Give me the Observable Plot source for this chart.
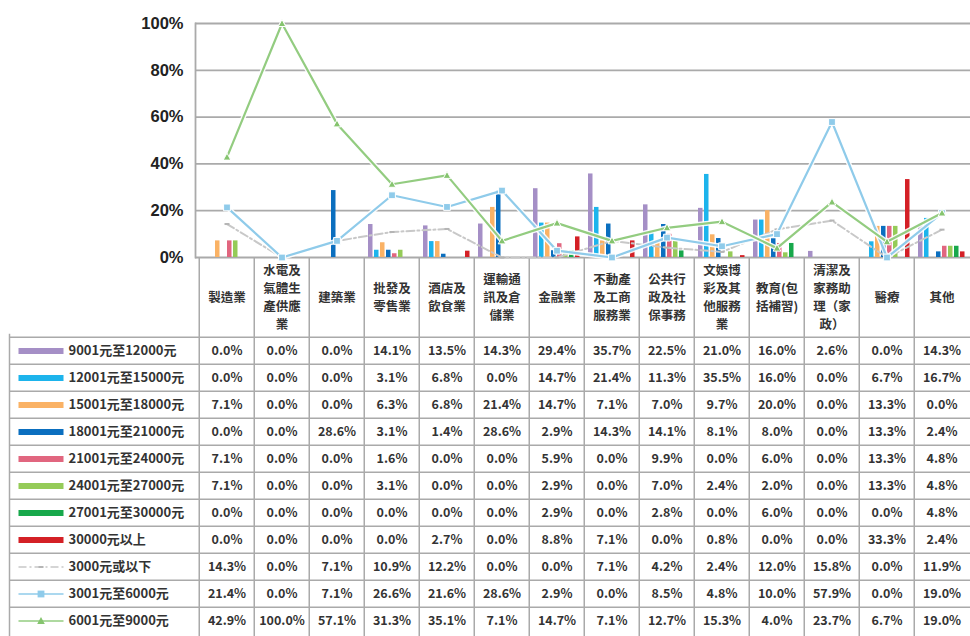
<!DOCTYPE html>
<html><head><meta charset="utf-8">
<script src="https://cdn.jsdelivr.net/npm/d3@7"></script>
<script src="https://cdn.jsdelivr.net/npm/@observablehq/plot@0.6"></script>
<style>
html,body{margin:0;padding:0;background:#fff;overflow:hidden;}
#wrap{width:970px;height:636px;overflow:hidden;position:relative;}
#wrap svg{display:block;max-width:none;}
#wrap svg.chartsvg{overflow:visible;position:relative;z-index:2;background:transparent !important;}
</style></head><body><div id="wrap"></div>
<script>
const categories = ["製造業","水電及氣體生產供應業","建築業","批發及零售業","酒店及飲食業","運輸通訊及倉儲業","金融業","不動產及工商服務業","公共行政及社保事務","文娛博彩及其他服務業","教育(包括補習)","清潔及家務助理（家政）","醫療","其他"];
const headerLabels = ["製造業","水電及\n氣體生\n產供應\n業","建築業","批發及\n零售業","酒店及\n飲食業","運輸通\n訊及倉\n儲業","金融業","不動產\n及工商\n服務業","公共行\n政及社\n保事務","文娛博\n彩及其\n他服務\n業","教育(包\n括補習)","清潔及\n家務助\n理（家\n政）","醫療","其他"];
const barSeries = ["9001元至12000元","12001元至15000元","15001元至18000元","18001元至21000元","21001元至24000元","24001元至27000元","27001元至30000元","30000元以上"];
const lineSeries = ["3000元或以下","3001元至6000元","6001元至9000元"];
const yTicks = [0, 0.2, 0.4, 0.6, 0.8, 1];

const s9001  = [0.0,0.0,0.0,14.1,13.5,14.3,29.4,35.7,22.5,21.0,16.0,2.6,0.0,14.3];
const s12001 = [0.0,0.0,0.0,3.1,6.8,0.0,14.7,21.4,11.3,35.5,16.0,0.0,6.7,16.7];
const s15001 = [7.1,0.0,0.0,6.3,6.8,21.4,14.7,7.1,7.0,9.7,20.0,0.0,13.3,0.0];
const s18001 = [0.0,0.0,28.6,3.1,1.4,28.6,2.9,14.3,14.1,8.1,8.0,0.0,13.3,2.4];
const s21001 = [7.1,0.0,0.0,1.6,0.0,0.0,5.9,0.0,9.9,0.0,6.0,0.0,13.3,4.8];
const s24001 = [7.1,0.0,0.0,3.1,0.0,0.0,2.9,0.0,7.0,2.4,2.0,0.0,13.3,4.8];
const s27001 = [0.0,0.0,0.0,0.0,0.0,0.0,2.9,0.0,2.8,0.0,6.0,0.0,0.0,4.8];
const s30000 = [0.0,0.0,0.0,0.0,2.7,0.0,8.8,7.1,0.0,0.8,0.0,0.0,33.3,2.4];
const s3000  = [14.3,0.0,7.1,10.9,12.2,0.0,0.0,7.1,4.2,2.4,12.0,15.8,0.0,11.9];
const s3001  = [21.4,0.0,7.1,26.6,21.6,28.6,2.9,0.0,8.5,4.8,10.0,57.9,0.0,19.0];
const s6001  = [42.9,100.0,57.1,31.3,35.1,7.1,14.7,7.1,12.7,15.3,4.0,23.7,6.7,19.0];

const barValues = [s9001,s12001,s15001,s18001,s21001,s24001,s27001,s30000];
const lineValues = [s3000,s3001,s6001];
const barColors = ["#a58fc6","#1db4ec","#fab265","#0b6fbf","#e1667f","#95cb58","#17a84b","#d42026"];
const lineColors = ["#c8c8c8","#8fcbea","#93cc80"];
const markerFill = ["#b5b5b5","#8fcbea","#85c46e"];

const W = 972, left = 195;
const bw = (W - left) / categories.length;
const gridColor = "#aaaaaa";
const fontCJK = "'Noto Sans CJK TC', 'Noto Sans', sans-serif";
const rows = categories.map((c, j) => ({cat: c, j}));

const squareSym = {draw(ctx, size){ const s = 3.4; ctx.rect(-s, -s, 2*s, 2*s); }};
const triSym = {draw(ctx, size){ ctx.moveTo(0,-4); ctx.lineTo(3.8,3); ctx.lineTo(-3.8,3); ctx.closePath(); }};
const dashSym = {draw(ctx, size){ ctx.rect(-2.5,-1,5,2); }};
const markerSyms = [dashSym, squareSym, triSym];

const barMarks = barSeries.map((name, i) => Plot.barY(rows, {
  x: "cat", y: d => barValues[i][d.j] / 100, fill: barColors[i],
  insetLeft: 4 + i * 6, insetRight: bw - (4 + i * 6) - 5
}));

const lineMarks = [];
lineSeries.forEach((name, k) => {
  const yv = d => lineValues[k][d.j] / 100;
  if (k > 0) lineMarks.push(Plot.line(rows, {x: "cat", y: yv, stroke: "white", strokeWidth: 5, strokeOpacity: 0.9}));
  lineMarks.push(Plot.line(rows, {x: "cat", y: yv, stroke: lineColors[k], strokeWidth: k === 0 ? 2 : 2.2,
    strokeDasharray: k === 0 ? "8,3,2,3" : null}));
  lineMarks.push(Plot.dot(rows, {x: "cat", y: yv, symbol: markerSyms[k], fill: markerFill[k], stroke: k === 0 ? "none" : "white", strokeWidth: 1}));
});

const chart = Plot.plot({
  width: W, height: 258, marginLeft: left, marginRight: 0, marginTop: 23, marginBottom: 1,
  className: "chartsvg",
  style: {fontFamily: fontCJK, background: "transparent", overflow: "visible"},
  x: {type: "band", domain: categories, padding: 0, axis: null},
  y: {domain: [0, 1], axis: null},
  marks: [
    Plot.ruleY(yTicks, {stroke: gridColor, strokeWidth: 1.8}),
    Plot.axisY(yTicks, {tickSize: 0, tickPadding: 12, tickFormat: d => Math.round(d * 100) + "%",
      fontSize: 16.5, fontWeight: "bold", fontFamily: "'Liberation Sans', Arial, sans-serif", fill: "#222", label: null}),
    ...barMarks,
    ...lineMarks,
    Plot.frame({anchor: "left", stroke: gridColor, strokeWidth: 1.8})
  ]
});
chart.classList.add("chartsvg");

const allSeries = [...barSeries, ...lineSeries];
const allValues = [...barValues, ...lineValues];
const tableRows = [];
allSeries.forEach((s, k) => categories.forEach((c, j) => tableRows.push({series: s, cat: c, v: allValues[k][j]})));
const headerH = 76;
const tableH = 379;
const bh = (tableH - headerH) / allSeries.length;

const rectSym = {draw(ctx, size){ ctx.rect(-22.5, -3, 45, 6); }};
const lineSym = {draw(ctx, size){ ctx.moveTo(-22.5, 0); ctx.lineTo(22.5, 0); }};

const table = Plot.plot({
  width: W, height: tableH, marginLeft: 9, marginRight: 0, marginTop: headerH, marginBottom: 0,
  style: {fontFamily: fontCJK, background: "white"},
  x: {type: "band", domain: categories, range: [left, W], padding: 0, axis: null},
  y: {type: "band", domain: allSeries, padding: 0, axis: null},
  marks: [
    Plot.ruleY(allSeries, {y: d => d, dy: -bh / 2, stroke: gridColor, strokeWidth: 1.5}),
    Plot.frame({anchor: "bottom", stroke: gridColor, strokeWidth: 1.5}),
    Plot.frame({anchor: "left", stroke: gridColor, strokeWidth: 1.5}),
    Plot.ruleX(categories, {x: d => d, dx: -bw / 2, insetTop: -headerH, stroke: gridColor, strokeWidth: 1.5}),
    Plot.text(categories, {x: d => d, text: (d, i) => headerLabels[i], frameAnchor: "top", dy: -headerH / 2,
      lineAnchor: "middle", lineHeight: 1.45, fontSize: 12.5, fontWeight: "bold", fill: "#333"}),
    Plot.text(tableRows, {x: "cat", y: "series", text: d => d.v.toFixed(1) + "%", fontSize: 12.5, fontWeight: "bold", fill: "#333"}),
    Plot.dot(barSeries, {y: d => d, frameAnchor: "left", dx: 31.5, symbol: rectSym, fill: (d, i) => barColors[i], stroke: "none"}),
    ...lineSeries.map((s, k) => Plot.dot([s], {y: d => d, frameAnchor: "left", dx: 31.5, symbol: lineSym, stroke: lineColors[k], strokeWidth: 1.5, strokeDasharray: k === 0 ? "8,3,2,3" : null})),
    ...lineSeries.map((s, k) => Plot.dot([s], {y: d => d, frameAnchor: "left", dx: 31.5, symbol: markerSyms[k], fill: markerFill[k], stroke: "none"})),
    Plot.text(allSeries, {y: d => d, frameAnchor: "left", dx: 59, textAnchor: "start", fontSize: 13, fontWeight: "bold", fill: "#333"})
  ]
});

const wrap = document.getElementById("wrap");
wrap.appendChild(chart);
wrap.appendChild(table);
</script></body></html>
